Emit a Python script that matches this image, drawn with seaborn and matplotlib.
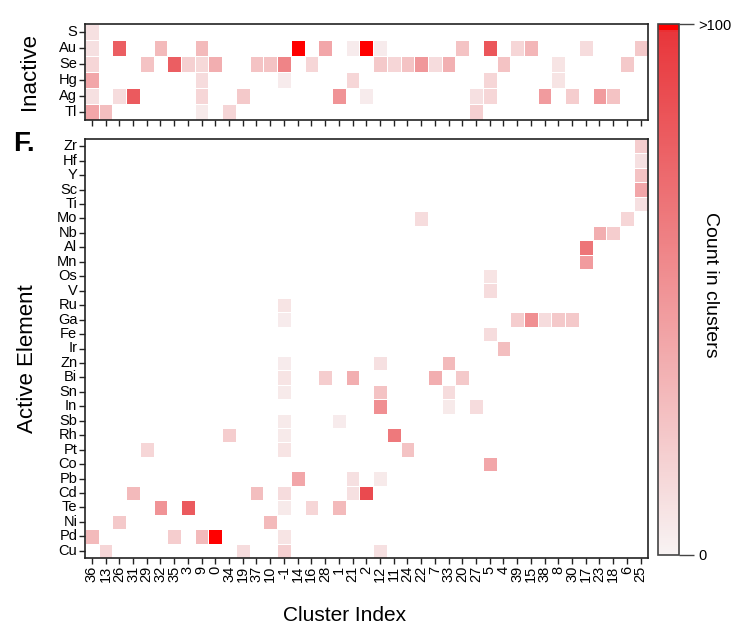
import numpy as np
import pandas as pd
import matplotlib
matplotlib.use("Agg")
import matplotlib.pyplot as plt
import seaborn as sns
from matplotlib.colors import LinearSegmentedColormap

# orden de clusters en el eje x
clusters = ["36", "13", "26", "31", "29", "32", "35", "3", "9", "0", "34", "19", "37", "10", "-1",
            "14", "16", "28", "1", "21", "2", "12", "11", "24", "22", "7", "33", "20", "27", "5",
            "4", "39", "15", "38", "8", "30", "17", "23", "18", "6", "25"]

inactive_elements = ["S", "Au", "Se", "Hg", "Ag", "Tl"]
active_elements = ["Zr", "Hf", "Y", "Sc", "Ti", "Mo", "Nb", "Al", "Mn", "Os", "V", "Ru", "Ga", "Fe",
                   "Ir", "Zn", "Bi", "Sn", "In", "Sb", "Rh", "Pt", "Co", "Pb", "Cd", "Te", "Ni", "Pd", "Cu"]

# (elemento, cluster, conteo) - 100 = ">100"
inactive_cells = [
    ("S", "36", 10),
    ("Au", "36", 10), ("Au", "26", 78), ("Au", "32", 30), ("Au", "9", 30), ("Au", "14", 100),
    ("Au", "28", 40), ("Au", "21", 4), ("Au", "2", 100), ("Au", "12", 4), ("Au", "20", 25),
    ("Au", "5", 82), ("Au", "39", 15), ("Au", "15", 32), ("Au", "17", 12), ("Au", "25", 22),
    ("Se", "36", 15), ("Se", "29", 25), ("Se", "35", 78), ("Se", "3", 18), ("Se", "9", 14),
    ("Se", "0", 36), ("Se", "37", 25), ("Se", "10", 25), ("Se", "-1", 58), ("Se", "16", 15),
    ("Se", "12", 22), ("Se", "11", 15), ("Se", "24", 25), ("Se", "22", 48), ("Se", "7", 12),
    ("Se", "33", 35), ("Se", "4", 25), ("Se", "8", 8), ("Se", "6", 22),
    ("Hg", "36", 40), ("Hg", "9", 12), ("Hg", "-1", 4), ("Hg", "21", 15), ("Hg", "5", 15),
    ("Hg", "8", 8),
    ("Ag", "36", 10), ("Ag", "26", 12), ("Ag", "31", 80), ("Ag", "9", 15), ("Ag", "19", 22),
    ("Ag", "1", 50), ("Ag", "2", 4), ("Ag", "27", 10), ("Ag", "5", 15), ("Ag", "38", 46),
    ("Ag", "30", 20), ("Ag", "23", 46), ("Ag", "18", 25),
    ("Tl", "36", 40), ("Tl", "13", 28), ("Tl", "9", 5), ("Tl", "34", 16), ("Tl", "27", 18),
]

active_cells = [
    ("Zr", "25", 20), ("Hf", "25", 10), ("Y", "25", 25), ("Sc", "25", 40), ("Ti", "25", 10),
    ("Mo", "22", 12), ("Mo", "6", 15),
    ("Nb", "23", 36), ("Nb", "18", 20),
    ("Al", "17", 66), ("Mn", "17", 46),
    ("Os", "5", 8), ("V", "5", 12), ("Ru", "-1", 8),
    ("Ga", "-1", 4), ("Ga", "39", 20), ("Ga", "15", 52), ("Ga", "38", 12), ("Ga", "8", 22),
    ("Ga", "30", 22),
    ("Fe", "5", 12), ("Ir", "4", 28),
    ("Zn", "-1", 4), ("Zn", "12", 10), ("Zn", "33", 30),
    ("Bi", "-1", 8), ("Bi", "28", 20), ("Bi", "21", 36), ("Bi", "7", 36), ("Bi", "20", 22),
    ("Sn", "-1", 5), ("Sn", "12", 25), ("Sn", "33", 12),
    ("In", "12", 52), ("In", "33", 5), ("In", "27", 12),
    ("Sb", "-1", 5), ("Sb", "1", 4),
    ("Rh", "34", 20), ("Rh", "-1", 5), ("Rh", "11", 64),
    ("Pt", "29", 15), ("Pt", "-1", 8), ("Pt", "24", 25),
    ("Co", "5", 40),
    ("Pb", "14", 40), ("Pb", "21", 10), ("Pb", "12", 5),
    ("Cd", "31", 30), ("Cd", "37", 28), ("Cd", "-1", 12), ("Cd", "21", 10), ("Cd", "2", 88),
    ("Te", "32", 50), ("Te", "3", 80), ("Te", "-1", 5), ("Te", "16", 15), ("Te", "1", 30),
    ("Ni", "26", 22), ("Ni", "10", 30),
    ("Pd", "36", 30), ("Pd", "35", 20), ("Pd", "9", 30), ("Pd", "0", 100), ("Pd", "-1", 8),
    ("Cu", "13", 15), ("Cu", "19", 12), ("Cu", "-1", 18), ("Cu", "12", 10),
]


def to_table(cells, rows):
    df = pd.DataFrame(cells, columns=["element", "cluster", "count"])
    tab = df.pivot(index="element", columns="cluster", values="count")
    return tab.reindex(index=rows, columns=clusters).astype(float)


inactive = to_table(inactive_cells, inactive_elements)
active = to_table(active_cells, active_elements)

plt.rcParams["font.family"] = ["Liberation Sans", "DejaVu Sans"]

cmap = LinearSegmentedColormap.from_list(
    "rojos", [(0, "#f8f3f3"), (0.988, "#e8363b"), (0.99, "#ff0000"), (1, "#ff0000")])

W, H = 735, 630
fig = plt.figure(figsize=(W / 100, H / 100), dpi=100)
ax_top = fig.add_axes([85 / W, 1 - 120 / H, 562.5 / W, 96 / H])
ax_bot = fig.add_axes([85 / W, 1 - 558 / H, 562.5 / W, 419 / H])
cax = fig.add_axes([658 / W, 1 - 555 / H, 21 / W, 531 / H])

for ax, tab in [(ax_top, inactive), (ax_bot, active)]:
    sns.heatmap(tab, ax=ax, cmap=cmap, vmin=0, vmax=100, cbar=False,
                linewidths=0.4, linecolor="white", xticklabels=clusters, yticklabels=True)
    for s in ax.spines.values():
        s.set_visible(True)
        s.set_color("#222222")
        s.set_linewidth(1.2)
    ax.tick_params(axis="both", direction="out", length=4, width=1, color="#222222",
                   labelsize=10.5, pad=1.5)
    ax.set_yticklabels(ax.get_yticklabels(), rotation=0)
    ax.set_xlabel("")

ax_top.tick_params(labelbottom=False)
ax_bot.set_xticklabels(clusters, rotation=90)

ax_top.set_ylabel("Inactive", fontsize=16)
ax_top.yaxis.set_label_coords(-0.08, 0.5)
ax_bot.set_ylabel("Active Element", fontsize=16)
ax_bot.yaxis.set_label_coords(-0.083, 0.477)
ax_bot.set_xlabel("Cluster Index", fontsize=15)
ax_bot.xaxis.set_label_coords(0.461, -0.115)

cbar = fig.colorbar(ax_bot.collections[0], cax=cax)
cbar.set_ticks([0, 100])
cbar.set_ticklabels(["0", ">100"])
cbar.ax.tick_params(length=11, width=1, color="#444444", labelsize=10.5, pad=3)
cbar.outline.set_edgecolor("#444444")
cbar.outline.set_linewidth(1.2)
fig.text(711 / W, 1 - 285 / H, "Count in clusters", rotation=270, fontsize=14,
         ha="center", va="center")

fig.text(13 / W, 1 - 131 / H, "F.", fontsize=20, fontweight="bold", va="top", ha="left")

fig.savefig("out.png", dpi=100)
